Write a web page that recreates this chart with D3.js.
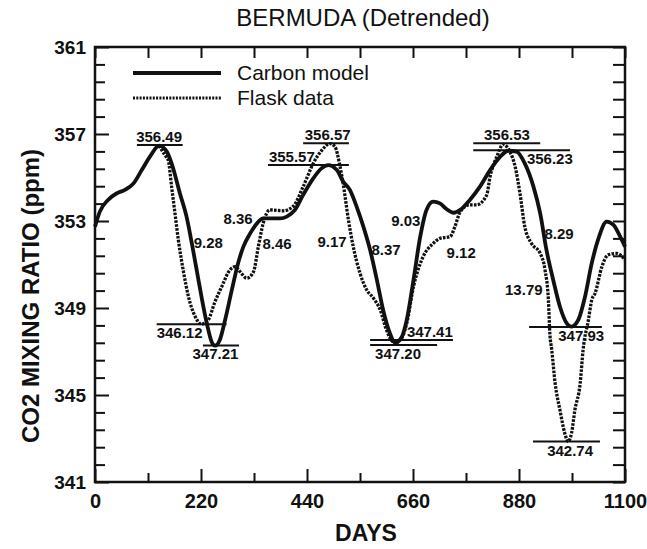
<!DOCTYPE html>
<html><head><meta charset="utf-8">
<script src="https://cdn.jsdelivr.net/npm/d3@7"></script>
<style>
html,body{margin:0;padding:0;background:#fff;}
text{font-family:"Liberation Sans",Arial,Helvetica,sans-serif;fill:#111;}
</style></head>
<body>
<svg id="chart" width="647" height="549"></svg>
<script>
// ---- data ----
const xTicksMajor = [0, 220, 440, 660, 880, 1100];
const xTicksMinor = [110, 330, 550, 770, 990];
const yTicksMajor = [341, 345, 349, 353, 357, 361];
const yTicksMinor = [341.8,342.6,343.4,344.2,345.8,346.6,347.4,348.2,349.8,350.6,351.4,352.2,353.8,354.6,355.4,356.2,357.8,358.6,359.4,360.2];

const modelDays = [0,10,27,45,62,80,97,114,133,149,159,176,190,201,211,221,232,242,249,259,270,284,297,308,322,336,349,384,398,415,432,453,470,484,502,515,529,543,557,571,585,598,612,623,637,647,661,675,688,702,716,730,744,758,778,799,820,841,858,875,892,910,924,937,951,965,979,989,1003,1017,1031,1045,1062,1076,1090,1100];
const modelValues = [352.74,353.43,353.97,354.27,354.43,354.73,355.34,355.96,356.47,356.19,355.65,354.29,353.20,351.97,350.75,349.52,348.30,347.45,347.27,347.53,348.45,349.83,351.06,351.82,352.43,352.89,353.12,353.12,353.20,353.51,354.20,354.96,355.42,355.57,355.34,354.81,354.43,353.66,352.74,351.67,350.29,348.91,347.84,347.40,347.68,348.45,350.29,352.28,353.51,353.89,353.81,353.54,353.38,353.51,353.97,354.58,355.34,355.96,356.23,356.19,355.65,354.58,353.35,351.67,350.29,349.06,348.30,348.14,348.45,349.52,351.06,352.20,352.97,352.82,352.28,351.82];

const flaskDays = [133,145,152,159,166,173,183,194,208,221,235,249,263,280,291,301,315,329,339,349,363,391,412,432,453,471,488,498,508,515,526,536,550,564,578,592,605,619,633,647,661,681,702,716,737,747,758,778,792,813,820,834,847,861,872,882,892,906,924,934,941,944,948,955,965,975,982,989,996,1007,1013,1024,1031,1038,1052,1065,1083,1100];
const flaskValues = [356.47,356.03,355.80,354.58,353.35,352.13,350.75,349.52,348.60,348.26,348.45,349.29,349.98,350.75,350.90,350.67,350.37,350.67,351.82,352.89,353.51,353.47,353.69,354.58,355.65,356.26,356.56,356.42,355.57,354.73,353.05,351.82,350.60,349.83,349.45,348.91,347.99,347.45,347.53,348.30,349.98,351.36,351.97,352.20,352.28,352.74,353.43,353.74,353.74,354.20,355.04,355.96,356.52,356.19,355.50,354.27,352.74,351.97,351.51,350.75,349.37,347.84,347.07,345.54,344.31,343.24,342.86,343.24,344.31,345.54,347.07,348.45,349.37,349.68,350.90,351.44,351.51,351.21];

// extreme-value markers: bar from day0 to day1 at level (ppm), label text
const markLabels = ["356.49","346.12","347.21","355.57","356.57","347.41","347.20","356.53","356.23","347.93","342.74"];
const markLevel  = [356.49, 348.25, 347.28, 355.57, 356.58, 347.53, 347.30, 356.58, 356.25, 348.13, 342.86];
const markDay0   = [87, 128, 224, 359, 432, 571, 571, 785, 785, 901, 909];
const markDay1   = [182, 273, 299, 527, 527, 743, 710, 924, 986, 1052, 1048];
const markTextDay= [133, 128, 250, 361, 483, 695, 629, 855, 944, 1009, 986];
const markAnchor = ["middle","start","middle","start","middle","middle","middle","middle","middle","middle","middle"];
const markSide   = ["above","below","below","above","above","above","below","above","below","below","below"];

// amplitude labels
const ampLabels = ["9.28","8.36","8.46","9.17","8.37","9.03","9.12","8.29","13.79"];
const ampDays   = [235, 297, 378, 492, 604, 645, 760, 963, 890];
const ampValues = [351.99, 353.09, 351.94, 352.03, 351.67, 353.00, 351.53, 352.40, 349.83];

const seriesNames = ["Carbon model", "Flask data"];
const titleText = "BERMUDA (Detrended)";
const xTitle = "DAYS";
const yTitle = "CO2 MIXING RATIO (ppm)";

// ---- drawing ----
const svg = d3.select("#chart");
const pL = 95, pR = 625, pT = 47, pB = 482;
const x = d3.scaleLinear().domain([0, 1100]).range([pL, pR]);
const y = d3.scaleLinear().domain([341, 361]).range([pB, pT]);

function styleAxis(g){
  g.select(".domain").remove();
  g.selectAll(".tick line").attr("stroke","#111").attr("stroke-width",2);
}
// bottom
svg.append("g").attr("transform",`translate(0,${pB})`)
  .call(d3.axisBottom(x).tickValues(xTicksMajor).tickFormat(d3.format("d")).tickSizeInner(-13).tickSizeOuter(0).tickPadding(12))
  .call(styleAxis)
  .call(g=>g.selectAll("text").attr("font-size",20).attr("font-weight","bold").attr("fill","#111").attr("font-family",null));
svg.append("g").attr("transform",`translate(0,${pB})`)
  .call(d3.axisBottom(x).tickValues(xTicksMinor).tickFormat("").tickSizeInner(-9).tickSizeOuter(0))
  .call(styleAxis);
// top
svg.append("g").attr("transform",`translate(0,${pT})`)
  .call(d3.axisTop(x).tickValues(xTicksMajor.concat(xTicksMinor)).tickFormat("").tickSizeInner(-11).tickSizeOuter(0))
  .call(styleAxis);
// left
svg.append("g").attr("transform",`translate(${pL},0)`)
  .call(d3.axisLeft(y).tickValues(yTicksMajor).tickFormat(d3.format("d")).tickSizeInner(-14).tickSizeOuter(0).tickPadding(9))
  .call(styleAxis)
  .call(g=>g.selectAll("text").attr("font-size",19).attr("font-weight","bold").attr("fill","#111").attr("font-family",null));
svg.append("g").attr("transform",`translate(${pL},0)`)
  .call(d3.axisLeft(y).tickValues(yTicksMinor).tickFormat("").tickSizeInner(-10).tickSizeOuter(0))
  .call(styleAxis);
// right
svg.append("g").attr("transform",`translate(${pR},0)`)
  .call(d3.axisRight(y).tickValues(yTicksMajor.concat(yTicksMinor)).tickFormat("").tickSizeInner(-12).tickSizeOuter(0))
  .call(styleAxis);

// frame
svg.append("rect").attr("x",pL).attr("y",pT).attr("width",pR-pL).attr("height",pB-pT)
  .attr("fill","none").attr("stroke","#111").attr("stroke-width",2.5);

// lines
const line = d3.line().x(d=>x(d[0])).y(d=>y(d[1])).curve(d3.curveMonotoneX);
const modelPts = modelDays.map((d,i)=>[d, modelValues[i]]);
const flaskPts = flaskDays.map((d,i)=>[d, flaskValues[i]]);
svg.append("path").attr("d", line(flaskPts)).attr("fill","none").attr("stroke","#111")
  .attr("stroke-width",3.3).attr("stroke-dasharray","2.6,1.3");
svg.append("path").attr("d", line(modelPts)).attr("fill","none").attr("stroke","#111")
  .attr("stroke-width",3.8).attr("stroke-linejoin","round");

// extreme markers
markLabels.forEach((t,i)=>{
  const yy = y(markLevel[i]);
  svg.append("line").attr("x1",x(markDay0[i])).attr("x2",x(markDay1[i]))
    .attr("y1",yy).attr("y2",yy).attr("stroke","#111").attr("stroke-width",2);
  svg.append("text").attr("x",x(markTextDay[i]))
    .attr("y", markSide[i]==="above" ? yy-3 : yy+14)
    .attr("text-anchor",markAnchor[i]).attr("font-size",15).attr("font-weight","bold").text(t);
});
ampLabels.forEach((t,i)=>{
  svg.append("text").attr("x",x(ampDays[i])).attr("y",y(ampValues[i]))
    .attr("dy","0.35em").attr("text-anchor","middle").attr("font-size",15).attr("font-weight","bold").text(t);
});

// legend
svg.append("line").attr("x1",133).attr("x2",221).attr("y1",73).attr("y2",73).attr("stroke","#111").attr("stroke-width",3.8);
svg.append("line").attr("x1",133).attr("x2",221).attr("y1",98).attr("y2",98).attr("stroke","#111").attr("stroke-width",3).attr("stroke-dasharray","2,1.3");
svg.append("text").attr("x",237).attr("y",73).attr("dy","0.35em").attr("font-size",21).text(seriesNames[0]);
svg.append("text").attr("x",237).attr("y",98).attr("dy","0.35em").attr("font-size",21).text(seriesNames[1]);

// titles
svg.append("text").attr("x",(pL+pR)/2 + 3).attr("y",18).attr("dy","0.35em").attr("text-anchor","middle").attr("font-size",24).text(titleText);
svg.append("text").attr("x",366).attr("y",533).attr("dy","0.35em").attr("text-anchor","middle").attr("font-size",23).attr("font-weight","bold").text(xTitle);
svg.append("text").attr("transform",`translate(31,296) rotate(-90)`).attr("dy","0.35em").attr("text-anchor","middle").attr("font-size",24).attr("font-weight","bold").text(yTitle);
</script>
</body></html>
